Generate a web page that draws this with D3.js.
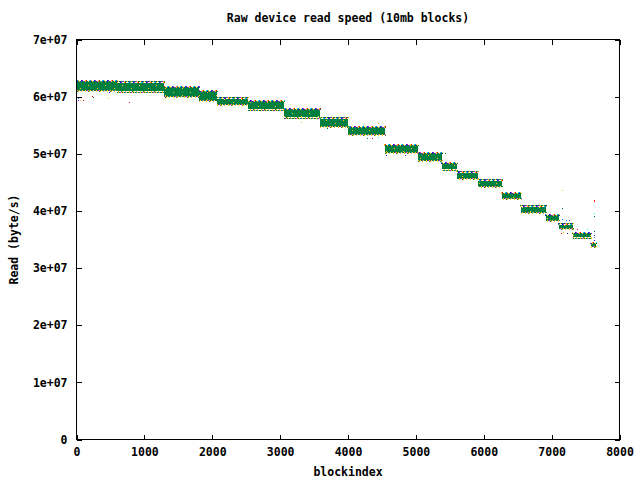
<!DOCTYPE html>
<html><head><meta charset="utf-8">
<script src="https://cdn.jsdelivr.net/npm/d3@7"></script>
<style>
html,body{margin:0;padding:0;background:#fff;}
svg text{font-family:"DejaVu Sans Mono","Liberation Mono",monospace;font-weight:bold;font-size:11.5px;fill:#000;}
</style></head>
<body>
<svg id="chart" width="640" height="480"></svg>
<script>
// ---- data ----
const seriesColors = ["#ff0000","#00c000","#0080ff","#c000ff","#00eeee","#c04000","#eeee00","#2020c0","#ffc020","#008040"];
const xTicks = [0,1000,2000,3000,4000,5000,6000,7000,8000];
const yTicks = [0,1e7,2e7,3e7,4e7,5e7,6e7,7e7];
const yTickLabels = ["0","1e+07","2e+07","3e+07","4e+07","5e+07","6e+07","7e+07"];
// zones of near constant read speed (block index range, value band)
const zoneStart = [0,600,1296,1812,2077,2534,3050,3590,4007,4552,5024,5392,5613,5922,6276,6556,6910,7116,7322,7573];
const zoneEnd   = [600,1296,1812,2077,2534,3050,3590,4007,4552,5024,5392,5613,5922,6276,6556,6910,7116,7322,7573,7650];
const zoneHigh  = [62.56e6,62.39e6,61.43e6,60.73e6,59.59e6,59.06e6,57.58e6,56.0e6,54.51e6,51.36e6,49.96e6,48.21e6,46.64e6,45.15e6,42.88e6,40.69e6,39.03e6,37.45e6,35.96e6,34.3e6];
const zoneLow   = [61.16e6,61.02e6,60.2e6,59.41e6,58.63e6,57.84e6,56.44e6,54.95e6,53.46e6,50.4e6,48.91e6,47.25e6,45.85e6,44.45e6,42.18e6,39.9e6,38.41e6,36.93e6,35.44e6,33.86e6];
// isolated points: block index, value, series index
const outBlock = [22,22,52,91,224,247,468,773,486,3302,3690,4286,4286,4352,4440,4445,4558,4558,4838,5427,7155,7155,7155,7205,7258,7131,7161,7229,7367,7514,7622,7622,7622,7622,7622,7622,7622,7622];
const outValue = [59.76e6,59.41e6,59.5e6,59.5e6,60.1e6,59.9e6,59.7e6,59.0e6,60.9e6,55.6e6,54.46e6,52.85e6,52.7e6,52.7e6,53.0e6,55.3e6,50.3e6,49.8e6,49.8e6,50.2e6,43.66e6,40.46e6,38.5e6,38.4e6,38.4e6,36.1e6,36.26e6,36.1e6,36.8e6,36.8e6,42.0e6,41.8e6,39.7e6,39.1e6,36.54e6,35.8e6,35.4e6,34.9e6];
const outSeries = [2,3,8,0,0,9,8,0,7,8,9,7,9,0,4,8,9,7,7,9,8,9,2,2,7,0,8,7,0,4,0,0,4,9,9,7,2,7];

// ---- layout ----
const svg = d3.select("#chart");
const L = 76.5, R = 619.5, T = 39.5, B = 439.5;
const x = d3.scaleLinear().domain([0,8000]).range([L,R]);
const y = d3.scaleLinear().domain([0,7e7]).range([B,T]);

// pixel patterns (style only)
const defs = svg.append("defs");
function pattern(id, w, h, rows, bg){
  const p = defs.append("pattern").attr("id",id).attr("patternUnits","userSpaceOnUse")
    .attr("width",w).attr("height",h);
  if(bg) p.append("rect").attr("width",w).attr("height",h).attr("fill",bg);
  rows.forEach((row,j)=>{ row.split("").forEach((c,i)=>{
    const col = {Y:seriesColors[8],G:seriesColors[9],B:seriesColors[7],b:seriesColors[2],M:seriesColors[3],R:seriesColors[0],C:seriesColors[4],E:seriesColors[6],g:seriesColors[1]}[c];
    if(col && col!==bg) p.append("rect").attr("x",i).attr("y",j).attr("width",1).attr("height",1).attr("fill",col);
  });});
}
pattern("fringeTop",13,2,["Y..BM..YR..Cb","GYGBGGMYGGYGB"]);
pattern("fringeBot",11,2,["YGYGbYGGYGM","GY..Y...Y.."]);
pattern("core",17,7,["GGGGGGGGGGGGGGGGG","GGGYGGGGGGGGGGGGG","GGGGGGGGGGGGGGGGG","GGGGGGGGGGGGGGGGG","GGGGGGGGGGGGYGGGG","GGGGGGGGGGGGGGGGG","GGGGGGGGGGGGGGGGG"],seriesColors[9]);

const gData = svg.append("g").attr("shape-rendering","crispEdges");
const zones = zoneStart.map((s,i)=>({s, e:zoneEnd[i], hi:zoneHigh[i], lo:zoneLow[i]}));

// fringe of the lower series
gData.selectAll("rect.ft").data(zones).join("rect").attr("class","ft")
  .attr("x",d=>Math.round(x(d.s))-1).attr("width",d=>Math.round(x(d.e))-Math.round(x(d.s))+2)
  .attr("y",d=>Math.round(y(d.hi))-2).attr("height",2).attr("fill","url(#fringeTop)");
gData.selectAll("rect.fb").data(zones).join("rect").attr("class","fb")
  .attr("x",d=>Math.round(x(d.s))).attr("width",d=>Math.round(x(d.e))-Math.round(x(d.s))+1)
  .attr("y",d=>Math.round(y(d.lo))).attr("height",2).attr("fill","url(#fringeBot)");
// top series band
gData.selectAll("rect.core").data(zones).join("rect").attr("class","core")
  .attr("x",d=>Math.round(x(d.s))).attr("width",d=>Math.round(x(d.e))-Math.round(x(d.s)))
  .attr("y",d=>Math.round(y(d.hi))).attr("height",d=>Math.round(y(d.lo))-Math.round(y(d.hi)))
  .attr("fill","url(#core)");

// isolated points
gData.selectAll("rect.pt").data(outBlock.map((b,i)=>({b,v:outValue[i],s:outSeries[i]}))).join("rect").attr("class","pt")
  .attr("x",d=>Math.round(x(d.b))).attr("y",d=>Math.round(y(d.v))).attr("width",1).attr("height",1)
  .attr("fill",d=>seriesColors[d.s]);

// ---- axes (gnuplot style, mirrored inward ticks) ----
const TL = 5;
const gAx = svg.append("g").attr("shape-rendering","crispEdges");
const xb = d3.axisBottom(x).tickValues(xTicks).tickSize(-TL).tickPadding(8).tickFormat(d3.format("d"));
const xt = d3.axisTop(x).tickValues(xTicks).tickSize(-TL).tickFormat("");
const yl = d3.axisLeft(y).tickValues(yTicks).tickSize(-TL).tickPadding(9).tickFormat((d,i)=>yTickLabels[i]);
const yr = d3.axisRight(y).tickValues(yTicks).tickSize(-TL).tickFormat("");
function style(g){ g.select(".domain").remove(); g.selectAll("line").attr("stroke","#000");
  g.selectAll("text").attr("font-family",null).attr("font-size",null).attr("fill","#000"); }
gAx.append("g").attr("transform",`translate(0,${B})`).call(xb).call(style);
gAx.append("g").attr("transform",`translate(0,${T})`).call(xt).call(style);
gAx.append("g").attr("transform",`translate(${L},0)`).call(yl).call(style);
gAx.append("g").attr("transform",`translate(${R},0)`).call(yr).call(style);
gAx.append("rect").attr("x",L).attr("y",T).attr("width",R-L).attr("height",B-T)
  .attr("fill","none").attr("stroke","#000");

// ---- titles ----
svg.append("text").attr("x",(L+R)/2).attr("y",22).attr("text-anchor","middle").text("Raw device read speed (10mb blocks)");
svg.append("text").attr("x",(L+R)/2).attr("y",476).attr("text-anchor","middle").text("blockindex");
svg.append("text").attr("transform",`translate(18,${(T+B)/2}) rotate(-90)`).attr("text-anchor","middle").text("Read (byte/s)");
</script>
</body></html>
